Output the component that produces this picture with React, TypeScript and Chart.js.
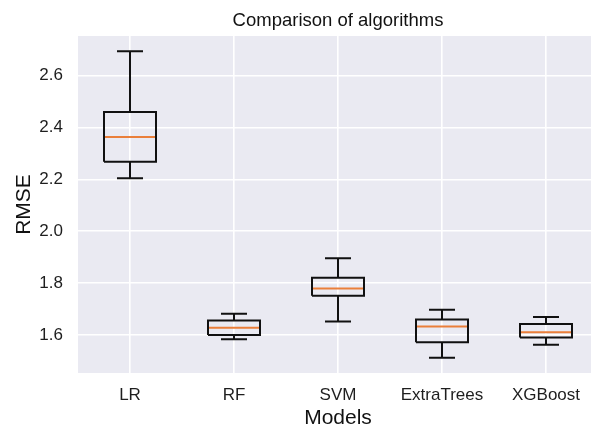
import React, { useEffect, useRef } from "react";
import { Chart, registerables } from "chart.js";

Chart.register(...registerables);

const categories = ["LR", "RF", "SVM", "ExtraTrees", "XGBoost"];
const whiskerLow = [2.204, 1.583, 1.652, 1.512, 1.562];
const q1 = [2.268, 1.6, 1.751, 1.572, 1.59];
const median = [2.363, 1.628, 1.779, 1.632, 1.61];
const q3 = [2.46, 1.656, 1.82, 1.659, 1.642];
const whiskerHigh = [2.694, 1.682, 1.896, 1.697, 1.669];
const yTicks = [1.6, 1.8, 2.0, 2.2, 2.4, 2.6];

const BOX_HALF = 0.25;
const CAP_HALF = 0.125;
const FONT = "'Liberation Sans', Arial, Helvetica, sans-serif";

type Pt = { x: number; y: number | null };

function buildBoxes(): Pt[] {
  const pts: Pt[] = [];
  categories.forEach((_, i) => {
    const x = i + 1;
    pts.push({ x: x - BOX_HALF, y: q1[i] });
    pts.push({ x: x + BOX_HALF, y: q1[i] });
    pts.push({ x: x + BOX_HALF, y: q3[i] });
    pts.push({ x: x - BOX_HALF, y: q3[i] });
    pts.push({ x: x - BOX_HALF, y: q1[i] });
    pts.push({ x, y: null });
  });
  return pts;
}

function buildWhiskers(): Pt[] {
  const pts: Pt[] = [];
  categories.forEach((_, i) => {
    const x = i + 1;
    pts.push({ x, y: q3[i] }, { x, y: whiskerHigh[i] }, { x, y: null });
    pts.push({ x, y: q1[i] }, { x, y: whiskerLow[i] }, { x, y: null });
    pts.push({ x: x - CAP_HALF, y: whiskerHigh[i] }, { x: x + CAP_HALF, y: whiskerHigh[i] }, { x, y: null });
    pts.push({ x: x - CAP_HALF, y: whiskerLow[i] }, { x: x + CAP_HALF, y: whiskerLow[i] }, { x, y: null });
  });
  return pts;
}

function buildMedians(): Pt[] {
  const pts: Pt[] = [];
  categories.forEach((_, i) => {
    const x = i + 1;
    pts.push({ x: x - BOX_HALF, y: median[i] }, { x: x + BOX_HALF, y: median[i] }, { x, y: null });
  });
  return pts;
}

const bgPlugin = {
  id: "plotBg",
  beforeDraw(chart: any) {
    const { ctx, chartArea } = chart;
    ctx.save();
    ctx.fillStyle = "#eaeaf2";
    ctx.fillRect(chartArea.left, chartArea.top, chartArea.right - chartArea.left, chartArea.bottom - chartArea.top);
    ctx.restore();
  },
};

export default function App() {
  const ref = useRef<HTMLCanvasElement>(null);

  useEffect(() => {
    if (!ref.current) return;
    const lineCommon = {
      type: "line" as const,
      pointRadius: 0,
      pointHoverRadius: 0,
      spanGaps: false,
      fill: false,
      tension: 0,
    };
    const chart = new Chart(ref.current, {
      type: "line",
      data: {
        datasets: [
          { ...lineCommon, label: "whiskers", data: buildWhiskers() as any, borderColor: "#111111", borderWidth: 2 },
          { ...lineCommon, label: "boxes", data: buildBoxes() as any, borderColor: "#111111", borderWidth: 2 },
          { ...lineCommon, label: "median", data: buildMedians() as any, borderColor: "#ea7f3a", borderWidth: 2 },
        ],
      },
      options: {
        animation: false,
        responsive: false,
        layout: { padding: { left: 0, right: 12, top: 0, bottom: 0 } },
        plugins: {
          legend: { display: false },
          tooltip: { enabled: false },
          title: {
            display: true,
            fullSize: false,
            text: "Comparison of algorithms",
            color: "#111111",
            font: { family: FONT, size: 18.5, weight: "normal", lineHeight: 1.2 },
            padding: { top: 10, bottom: 3.8 },
          },
        },
        scales: {
          x: {
            type: "linear",
            min: 0.5,
            max: 5.5,
            afterBuildTicks(scale: any) {
              scale.ticks = categories.map((_, i) => ({ value: i + 1 }));
            },
            afterFit(scale: any) {
              scale.height = 53;
            },
            border: { display: false },
            grid: { color: "#ffffff", lineWidth: 1.6, drawTicks: false },
            ticks: {
              color: "#1e1e1e",
              font: { family: FONT, size: 17 },
              padding: 12,
              autoSkip: false,
              maxRotation: 0,
              callback: (v: any) => categories[Math.round(Number(v)) - 1] ?? "",
            },
            title: {
              display: true,
              text: "Models",
              color: "#111111",
              font: { family: FONT, size: 21, lineHeight: 1 },
              padding: { top: 0, bottom: -3 },
            },
          },
          y: {
            type: "linear",
            min: 1.453,
            max: 2.753,
            afterBuildTicks(scale: any) {
              scale.ticks = yTicks.map((v) => ({ value: v }));
            },
            afterFit(scale: any) {
              scale.width = 78;
            },
            border: { display: false },
            grid: { color: "#ffffff", lineWidth: 1.6, drawTicks: false },
            ticks: {
              color: "#1e1e1e",
              font: { family: FONT, size: 17 },
              padding: 15,
              callback: (v: any) => Number(v).toFixed(1),
            },
            title: {
              display: true,
              text: "RMSE",
              color: "#111111",
              font: { family: FONT, size: 21, lineHeight: 1.2 },
              padding: { top: 11.5, bottom: 0 },
            },
          },
        },
      },
      plugins: [bgPlugin],
    } as any);
    return () => chart.destroy();
  }, []);

  return (
    <div style={{ position: "fixed", left: 0, top: 0, width: 591, height: 426, overflow: "hidden", background: "#fff" }}>
      <canvas ref={ref} width={610} height={426} style={{ display: "block", width: 610, height: 426 }} />
    </div>
  );
}
